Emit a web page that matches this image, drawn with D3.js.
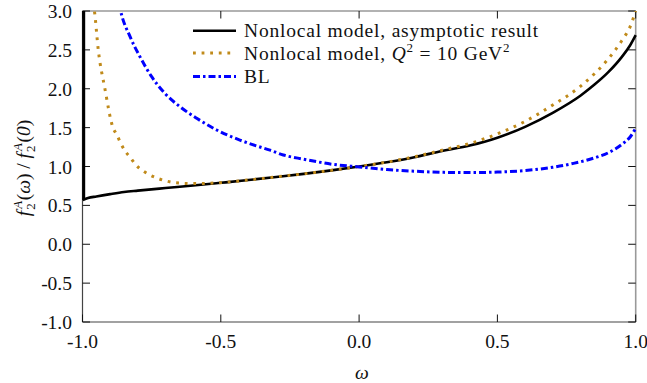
<!DOCTYPE html>
<html><head><meta charset="utf-8">
<script src="https://cdn.jsdelivr.net/npm/d3@7"></script>
<style>
body{margin:0;background:#fff;}
text{font-family:"Liberation Serif","DejaVu Serif",serif;fill:#111;}
</style></head>
<body><svg id="c" width="647" height="383"></svg>
<script>
// ---- data ----
const asymOmega = [-1, -0.999, -0.98, -0.95, -0.9, -0.85, -0.8, -0.7, -0.6, -0.5, -0.4, -0.3, -0.2, -0.1, 0, 0.1, 0.2, 0.3, 0.4, 0.5, 0.6, 0.7, 0.8, 0.85, 0.9, 0.95, 0.98, 1.0];
const asymValues = [3.0, 0.57, 0.595, 0.615, 0.645, 0.672, 0.69, 0.723, 0.755, 0.79, 0.826, 0.865, 0.905, 0.95, 1.0, 1.055, 1.12, 1.2, 1.27, 1.37, 1.51, 1.69, 1.91, 2.05, 2.21, 2.41, 2.56, 2.69];
const q2Omega = [-0.962, -0.957, -0.943, -0.919, -0.89, -0.876, -0.862, -0.846, -0.826, -0.807, -0.782, -0.756, -0.725, -0.693, -0.662, -0.6, -0.5, -0.4, -0.3, -0.2, -0.1, 0, 0.1, 0.2, 0.3, 0.4, 0.5, 0.6, 0.7, 0.8, 0.85, 0.9, 0.95, 0.98, 1.0];
const q2Values = [3.1, 3.0, 2.5, 2.0, 1.5, 1.41, 1.30, 1.20, 1.11, 1.02, 0.946, 0.89, 0.843, 0.81, 0.79, 0.78, 0.792, 0.827, 0.866, 0.906, 0.951, 1.0, 1.056, 1.125, 1.21, 1.295, 1.42, 1.58, 1.79, 2.03, 2.19, 2.38, 2.62, 2.8, 3.0];
const blOmega = [-0.868, -0.862, -0.828, -0.792, -0.75, -0.702, -0.648, -0.587, -0.515, -0.431, -0.388, -0.322, -0.274, -0.2, -0.1, 0, 0.1, 0.2, 0.3, 0.4, 0.5, 0.6, 0.7, 0.775, 0.85, 0.9, 0.95, 0.98, 1.0];
const blValues = [3.1, 3.0, 2.67, 2.41, 2.155, 1.94, 1.77, 1.62, 1.47, 1.34, 1.285, 1.21, 1.148, 1.094, 1.03, 0.995, 0.96, 0.94, 0.925, 0.922, 0.928, 0.948, 0.99, 1.04, 1.11, 1.175, 1.285, 1.38, 1.49];
const xTicks = [-1.0, -0.5, 0.0, 0.5, 1.0];
const yTicks = [-1.0, -0.5, 0.0, 0.5, 1.0, 1.5, 2.0, 2.5, 3.0];
const legendLabels = ["Nonlocal model, asymptotic result", "Nonlocal model, ", "BL"];

// ---- layout ----
const svg = d3.select("#c");
const L = 82.5, R = 635.7, T = 11, B = 322;
const x = d3.scaleLinear().domain([-1, 1]).range([L, R]);
const y = d3.scaleLinear().domain([-1, 3]).range([B, T]);
const fs = 19.5;

svg.append("defs").append("clipPath").attr("id", "clip")
  .append("rect").attr("x", L - 3).attr("y", T).attr("width", R - L + 6).attr("height", B - T);

// frame
svg.append("line").attr("x1", L).attr("x2", R).attr("y1", T).attr("y2", T).attr("stroke", "#999").attr("stroke-width", 1.6);
svg.append("line").attr("x1", R).attr("x2", R).attr("y1", T).attr("y2", B).attr("stroke", "#999").attr("stroke-width", 1.6);
svg.append("line").attr("x1", L).attr("x2", L).attr("y1", T).attr("y2", B).attr("stroke", "#444").attr("stroke-width", 1.2);
svg.append("line").attr("x1", L).attr("x2", R).attr("y1", B).attr("y2", B).attr("stroke", "#444").attr("stroke-width", 1.2);

// ticks
const tk = 7.5;
xTicks.forEach(v => {
  svg.append("line").attr("x1", x(v)).attr("x2", x(v)).attr("y1", B).attr("y2", B - tk).attr("stroke", "#111").attr("stroke-width", 1);
  svg.append("line").attr("x1", x(v)).attr("x2", x(v)).attr("y1", T).attr("y2", T + tk).attr("stroke", "#111").attr("stroke-width", 1);
  svg.append("text").attr("x", x(v)).attr("y", B + 26).attr("text-anchor", "middle")
    .attr("font-size", fs).text(d3.format(".1f")(v).replace("−", "-"));
});
yTicks.forEach(v => {
  svg.append("line").attr("x1", L).attr("x2", L + tk).attr("y1", y(v)).attr("y2", y(v)).attr("stroke", "#111").attr("stroke-width", 1);
  svg.append("line").attr("x1", R).attr("x2", R - tk).attr("y1", y(v)).attr("y2", y(v)).attr("stroke", "#111").attr("stroke-width", 1);
  svg.append("text").attr("x", 72).attr("y", y(v) + 7).attr("text-anchor", "end")
    .attr("font-size", fs).text(d3.format(".1f")(v).replace("−", "-"));
});

// axis labels
svg.append("text").attr("x", 362).attr("y", 379).attr("text-anchor", "middle")
  .attr("font-size", fs).attr("font-style", "italic").text("ω");

const yl = svg.append("text").attr("transform", "translate(30,168) rotate(-90)")
  .attr("text-anchor", "middle").attr("font-size", fs);
function fA(t, arg) {
  t.append("tspan").attr("font-style", "italic").text("f");
  t.append("tspan").attr("font-size", 13).attr("font-style", "italic").attr("dx", 2).attr("dy", -8).text("A");
  t.append("tspan").attr("font-size", 13).attr("dx", -9).attr("dy", 13).text("2");
  t.append("tspan").attr("dx", 3).attr("dy", -5).text("(");
  t.append("tspan").attr("font-style", "italic").text(arg);
  t.append("tspan").text(")");
}
fA(yl, "ω");
yl.append("tspan").text(" / ");
fA(yl, "0");

// curves
const g = svg.append("g").attr("clip-path", "url(#clip)");
const smooth = d3.line().x(d => x(d[0])).y(d => y(d[1])).curve(d3.curveMonotoneX);
const series = [
  {om: asymOmega, v: asymValues, color: "#000", w: 2.6, dash: null},
  {om: q2Omega, v: q2Values, color: "#c08a1a", w: 3, dash: "2.8,5.8"},
  {om: blOmega, v: blValues, color: "#0000ff", w: 3, dash: "7,3,2.5,3"}
];
series.forEach((s, k) => {
  const pts = s.om.map((o, i) => [o, s.v[i]]);
  if (k === 0) {
    // divergence at omega = -1: vertical rise along the left edge
    svg.append("rect")
      .attr("x", x(pts[0][0]) - 0.3).attr("width", 3)
      .attr("y", y(pts[0][1])).attr("height", y(pts[1][1]) - y(pts[0][1]))
      .attr("fill", s.color);
    g.append("path").datum(pts.slice(1)).attr("d", smooth)
      .attr("fill", "none").attr("stroke", s.color).attr("stroke-width", s.w);
  } else {
    g.append("path").datum(pts).attr("d", smooth).attr("fill", "none").attr("stroke", s.color)
      .attr("stroke-width", s.w).attr("stroke-dasharray", s.dash);
  }
});

// legend
const ly = [30.7, 53, 76.5];
series.forEach((s, i) => {
  svg.append("line").attr("x1", 193).attr("x2", 236).attr("y1", ly[i]).attr("y2", ly[i])
    .attr("stroke", s.color).attr("stroke-width", s.w).attr("stroke-dasharray", s.dash);
});
svg.append("text").attr("x", 244).attr("y", ly[0] + 6.5).attr("font-size", fs)
  .attr("letter-spacing", 0.8).text(legendLabels[0]);
const lt1 = svg.append("text").attr("x", 244).attr("y", ly[1] + 6.5).attr("font-size", fs).attr("letter-spacing", 0.8);
lt1.append("tspan").text(legendLabels[1]);
lt1.append("tspan").attr("font-style", "italic").text("Q");
lt1.append("tspan").attr("font-size", 13).attr("dy", -8).text("2");
lt1.append("tspan").attr("dy", 8).text(" = 10 GeV");
lt1.append("tspan").attr("font-size", 13).attr("dy", -8).text("2");
svg.append("text").attr("x", 244).attr("y", ly[2] + 6.5).attr("font-size", fs)
  .attr("letter-spacing", 0.8).text(legendLabels[2]);
</script></body></html>
